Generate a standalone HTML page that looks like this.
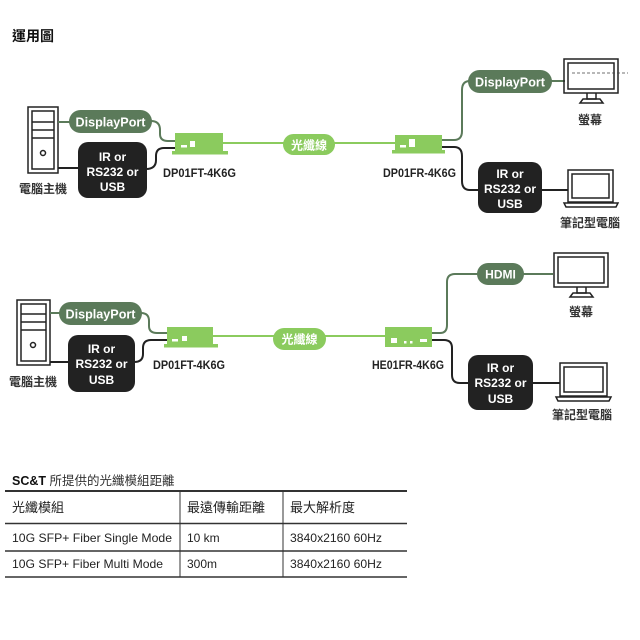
<!DOCTYPE html>
<html><head><meta charset="utf-8"><style>
html,body{margin:0;padding:0;background:#fff;}
svg{display:block;}
text{font-family:"Liberation Sans","Noto Sans CJK TC",sans-serif;}
</style></head><body>
<svg width="640" height="640" viewBox="0 0 640 640" xmlns="http://www.w3.org/2000/svg">
<rect width="640" height="640" fill="#fff"/>
<text x="12" y="41" font-size="14" font-weight="bold" fill="#111">運用圖</text>

<!-- ===== TOP DIAGRAM ===== -->
<!-- tower -->
<g fill="none" stroke="#222" stroke-width="1.5">
<rect x="28" y="107" width="30" height="66"/>
<rect x="32" y="111" width="22" height="58"/>
<line x1="32" y1="122" x2="54" y2="122"/>
<line x1="32" y1="130" x2="54" y2="130"/>
<line x1="32" y1="138" x2="54" y2="138"/>
<circle cx="43" cy="153" r="2.5"/>
</g>
<text x="43" y="193" font-size="12" font-weight="bold" fill="#333" text-anchor="middle">電腦主機</text>

<!-- connectors left -->
<line x1="58" y1="122" x2="70" y2="122" stroke="#5b7a5a" stroke-width="2"/>
<line x1="58" y1="168" x2="80" y2="168" stroke="#222" stroke-width="2"/>
<path d="M151 121 Q160 121 160 130 L160 134 Q160 141 168 141 L176 141" fill="none" stroke="#5b7a5a" stroke-width="2"/>
<path d="M146 169 Q156 169 156 160 L156 156 Q156 148 164 148 L176 148" fill="none" stroke="#222" stroke-width="2"/>

<rect x="69" y="110" width="83" height="23" rx="11.5" fill="#5b7a5a"/>
<text x="110.5" y="126.5" font-size="13" font-weight="bold" fill="#fff" text-anchor="middle" textLength="70" lengthAdjust="spacingAndGlyphs">DisplayPort</text>

<rect x="78" y="142" width="69" height="56" rx="10" fill="#222"/>
<g font-size="12" font-weight="bold" fill="#fff" text-anchor="middle">
<text x="112.5" y="161">IR or</text>
<text x="112.5" y="176">RS232 or</text>
<text x="112.5" y="191">USB</text>
</g>

<!-- fiber line top -->
<line x1="222" y1="143" x2="396" y2="143" stroke="#8bcb5e" stroke-width="2"/>
<rect x="283" y="134" width="52" height="21" rx="10.5" fill="#8bcb5e"/>
<text x="309" y="149.5" font-size="12" font-weight="bold" fill="#fff" text-anchor="middle">光纖線</text>

<!-- DP01FT device -->
<rect x="175" y="133" width="48" height="19" fill="#8bcb5e"/>
<rect x="172" y="151" width="56" height="3.5" fill="#8bcb5e"/>
<rect x="181" y="145" width="6" height="2.5" fill="#fff"/>
<rect x="190" y="141" width="5" height="6" fill="#fff"/>
<text x="163" y="177" font-size="12" font-weight="bold" fill="#222" textLength="73" lengthAdjust="spacingAndGlyphs">DP01FT-4K6G</text>

<!-- DP01FR device -->
<rect x="395" y="135" width="47" height="16" fill="#8bcb5e"/>
<rect x="392" y="150" width="53" height="3.5" fill="#8bcb5e"/>
<rect x="400" y="145" width="6" height="2.5" fill="#fff"/>
<rect x="409" y="139" width="6" height="8" fill="#fff"/>
<text x="383" y="177" font-size="12" font-weight="bold" fill="#222" textLength="73" lengthAdjust="spacingAndGlyphs">DP01FR-4K6G</text>

<!-- right connectors top -->
<path d="M442 140 L454 140 Q462 140 462 131 L462 90 Q462 81 470 81" fill="none" stroke="#5b7a5a" stroke-width="2"/>
<path d="M442 147 L454 147 Q462 147 462 156 L462 181 Q462 190 470 190 L480 190" fill="none" stroke="#222" stroke-width="2"/>
<line x1="550" y1="81" x2="565" y2="81" stroke="#5b7a5a" stroke-width="2"/>
<line x1="540" y1="190" x2="568" y2="190" stroke="#222" stroke-width="2"/>

<rect x="468" y="70" width="84" height="23" rx="11.5" fill="#5b7a5a"/>
<text x="510" y="86.5" font-size="13" font-weight="bold" fill="#fff" text-anchor="middle" textLength="70" lengthAdjust="spacingAndGlyphs">DisplayPort</text>

<rect x="478" y="162" width="64" height="51" rx="10" fill="#222"/>
<g font-size="12" font-weight="bold" fill="#fff" text-anchor="middle">
<text x="510" y="178">IR or</text>
<text x="510" y="193">RS232 or</text>
<text x="510" y="208">USB</text>
</g>

<!-- monitor top -->
<g fill="none" stroke="#222" stroke-width="1.5">
<rect x="564" y="59" width="54" height="34"/>
<rect x="568" y="63" width="46" height="26"/>
<path d="M587 93 L587 99 L596 99 L596 93"/>
<path d="M580 103 L583 99 L600 99 L603 103 Z"/>
</g>
<line x1="572" y1="73" x2="628" y2="73" stroke="#444" stroke-width="0.8" stroke-dasharray="3,2"/>
<text x="590" y="124" font-size="12" font-weight="bold" fill="#333" text-anchor="middle">螢幕</text>

<!-- laptop top -->
<g fill="none" stroke="#222" stroke-width="1.5">
<rect x="568" y="170" width="45" height="32"/>
<rect x="572" y="174" width="37" height="24"/>
<path d="M564 203 L618 203 L616 207 L566 207 Z"/>
</g>
<text x="590" y="227" font-size="12" font-weight="bold" fill="#333" text-anchor="middle">筆記型電腦</text>

<!-- ===== BOTTOM DIAGRAM ===== -->
<g fill="none" stroke="#222" stroke-width="1.5">
<rect x="17" y="300" width="33" height="65"/>
<rect x="21" y="304" width="25" height="57"/>
<line x1="21" y1="314" x2="46" y2="314"/>
<line x1="21" y1="322" x2="46" y2="322"/>
<line x1="21" y1="330" x2="46" y2="330"/>
<circle cx="33" cy="345" r="2.5"/>
</g>
<text x="33" y="386" font-size="12" font-weight="bold" fill="#333" text-anchor="middle">電腦主機</text>

<line x1="50" y1="313" x2="60" y2="313" stroke="#5b7a5a" stroke-width="2"/>
<line x1="50" y1="362" x2="70" y2="362" stroke="#222" stroke-width="2"/>
<path d="M141 313 Q149 313 149 321 L149 326 Q149 333 157 333 L168 333" fill="none" stroke="#5b7a5a" stroke-width="2"/>
<path d="M134 362 Q143 362 143 354 L143 348 Q143 340 151 340 L168 340" fill="none" stroke="#222" stroke-width="2"/>

<rect x="59" y="302" width="83" height="23" rx="11.5" fill="#5b7a5a"/>
<text x="100.5" y="318.5" font-size="13" font-weight="bold" fill="#fff" text-anchor="middle" textLength="70" lengthAdjust="spacingAndGlyphs">DisplayPort</text>

<rect x="68" y="335" width="67" height="57" rx="10" fill="#222"/>
<g font-size="12" font-weight="bold" fill="#fff" text-anchor="middle">
<text x="101.5" y="353">IR or</text>
<text x="101.5" y="368">RS232 or</text>
<text x="101.5" y="384">USB</text>
</g>

<line x1="212" y1="336" x2="386" y2="336" stroke="#8bcb5e" stroke-width="2"/>
<rect x="273" y="328" width="53" height="22" rx="11" fill="#8bcb5e"/>
<text x="299.5" y="343.5" font-size="12" font-weight="bold" fill="#fff" text-anchor="middle">光纖線</text>

<!-- DP01FT bottom -->
<rect x="167" y="327" width="46" height="18" fill="#8bcb5e"/>
<rect x="164" y="344" width="54" height="3.5" fill="#8bcb5e"/>
<rect x="172" y="339" width="6" height="2.5" fill="#fff"/>
<rect x="182" y="336" width="5" height="5" fill="#fff"/>
<text x="153" y="369" font-size="12" font-weight="bold" fill="#222" textLength="72" lengthAdjust="spacingAndGlyphs">DP01FT-4K6G</text>

<!-- HE01FR -->
<rect x="385" y="327" width="47" height="20" fill="#8bcb5e"/>
<rect x="391" y="338" width="6" height="5" fill="#fff"/>
<rect x="404" y="341" width="2.5" height="2.5" fill="#fff"/>
<rect x="410" y="341" width="2.5" height="2.5" fill="#fff"/>
<rect x="420" y="339" width="7" height="3" fill="#fff"/>
<text x="372" y="369" font-size="12" font-weight="bold" fill="#222" textLength="72" lengthAdjust="spacingAndGlyphs">HE01FR-4K6G</text>

<path d="M432 333 L440 333 Q447 333 447 325 L447 282 Q447 274 455 274 L478 274" fill="none" stroke="#5b7a5a" stroke-width="2"/>
<path d="M432 340 L444 340 Q452 340 452 348 L452 375 Q452 383 460 383 L470 383" fill="none" stroke="#222" stroke-width="2"/>
<line x1="522" y1="274" x2="553" y2="274" stroke="#5b7a5a" stroke-width="2"/>
<line x1="531" y1="383" x2="560" y2="383" stroke="#222" stroke-width="2"/>

<rect x="477" y="263" width="47" height="22" rx="11" fill="#5b7a5a"/>
<text x="500.5" y="278.5" font-size="12" font-weight="bold" fill="#fff" text-anchor="middle">HDMI</text>

<rect x="468" y="355" width="65" height="55" rx="10" fill="#222"/>
<g font-size="12" font-weight="bold" fill="#fff" text-anchor="middle">
<text x="500.5" y="372">IR or</text>
<text x="500.5" y="387">RS232 or</text>
<text x="500.5" y="403">USB</text>
</g>

<g fill="none" stroke="#222" stroke-width="1.5">
<rect x="554" y="253" width="54" height="34"/>
<rect x="558" y="257" width="46" height="26"/>
<path d="M577 287 L577 293 L586 293 L586 287"/>
<path d="M570 297 L573 293 L590 293 L593 297 Z"/>
</g>
<text x="581" y="316" font-size="12" font-weight="bold" fill="#333" text-anchor="middle">螢幕</text>

<g fill="none" stroke="#222" stroke-width="1.5">
<rect x="560" y="363" width="47" height="33"/>
<rect x="564" y="367" width="39" height="25"/>
<path d="M556 397 L611 397 L609 401 L558 401 Z"/>
</g>
<text x="582" y="419" font-size="12" font-weight="bold" fill="#333" text-anchor="middle">筆記型電腦</text>

<!-- ===== TABLE ===== -->
<text x="12" y="485" font-size="12.5" fill="#333"><tspan font-weight="bold" fill="#111">SC&amp;T</tspan> 所提供的光纖模組距離</text>
<line x1="5" y1="491" x2="407" y2="491" stroke="#333" stroke-width="2"/>
<line x1="5" y1="523.5" x2="407" y2="523.5" stroke="#333" stroke-width="1.5"/>
<line x1="5" y1="551" x2="407" y2="551" stroke="#333" stroke-width="1.5"/>
<line x1="5" y1="577" x2="407" y2="577" stroke="#333" stroke-width="1.5"/>
<line x1="180" y1="491" x2="180" y2="577" stroke="#333" stroke-width="1"/>
<line x1="283" y1="491" x2="283" y2="577" stroke="#333" stroke-width="1"/>
<g font-size="13" fill="#222">
<text x="12" y="512">光纖模組</text>
<text x="187" y="512">最遠傳輸距離</text>
<text x="290" y="512">最大解析度</text>
</g>
<g font-size="12" fill="#222">
<text x="12" y="542" textLength="160" lengthAdjust="spacingAndGlyphs">10G SFP+ Fiber Single Mode</text>
<text x="187" y="542">10 km</text>
<text x="290" y="542" textLength="92" lengthAdjust="spacingAndGlyphs">3840x2160 60Hz</text>
<text x="12" y="568" textLength="151" lengthAdjust="spacingAndGlyphs">10G SFP+ Fiber Multi Mode</text>
<text x="187" y="568">300m</text>
<text x="290" y="568" textLength="92" lengthAdjust="spacingAndGlyphs">3840x2160 60Hz</text>
</g>
</svg>
</body></html>
